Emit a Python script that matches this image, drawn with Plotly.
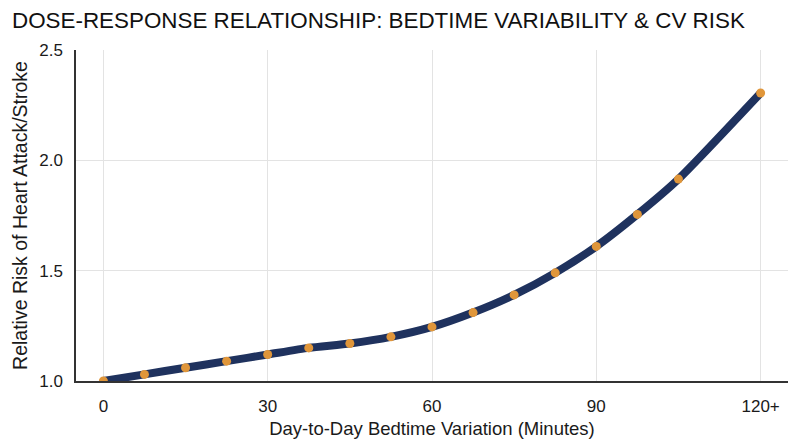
import plotly.graph_objects as go

# Bedtime variation (minutes) vs. relative risk of heart attack / stroke
minutes = [0, 7.5, 15, 22.5, 30, 37.5, 45, 52.5, 60, 67.5, 75, 82.5, 90, 97.5, 105, 120]
risk = [1.0, 1.03, 1.06, 1.09, 1.12, 1.15, 1.17, 1.20, 1.245, 1.31, 1.39, 1.49, 1.61, 1.755, 1.915, 2.305]

tick_vals = [0, 30, 60, 90, 120]
tick_text = ["0", "30", "60", "90", "120+"]
y_ticks = [1.0, 1.5, 2.0, 2.5]

navy = "#1f325e"
orange = "#e0963a"
font = "'Liberation Sans', Arial, sans-serif"

fig = go.Figure()
fig.add_trace(go.Scatter(
    x=minutes, y=risk, mode="lines+markers",
    line=dict(color=navy, width=8, shape="spline", smoothing=0.6),
    marker=dict(color=orange, size=9, line=dict(width=0)),
    showlegend=False,
))

# the page adds an 8px body margin, so margins are shifted to compensate
fig.update_layout(
    width=800, height=447,
    margin=dict(l=59, r=20, t=42, b=74),
    paper_bgcolor="white", plot_bgcolor="white",
    font=dict(family=font, color="#1a1a1a", size=17),
    title=dict(text="DOSE-RESPONSE RELATIONSHIP: BEDTIME VARIABILITY & CV RISK",
               x=0.005, xanchor="left", y=0.973, yanchor="middle",
               font=dict(size=22.4, color="#111111")),
)
fig.update_xaxes(
    range=[-5, 125], tickvals=tick_vals, ticktext=tick_text,
    showgrid=True, gridcolor="#e3e3e3", gridwidth=1,
    showline=True, linecolor="#333333", linewidth=1.5,
    zeroline=False, ticks="", ticklabelstandoff=9,
    title=dict(text="Day-to-Day Bedtime Variation (Minutes)", font=dict(size=18.5), standoff=7),
)
fig.update_yaxes(
    range=[1.0, 2.5], tickvals=y_ticks, tickformat=".1f",
    showgrid=True, gridcolor="#e3e3e3", gridwidth=1,
    showline=True, linecolor="#333333", linewidth=1.5,
    zeroline=False, ticks="", ticklabelstandoff=8,
    title=dict(text="Relative Risk of Heart Attack/Stroke", font=dict(size=19.5), standoff=6),
)

fig.write_html("out.html")
